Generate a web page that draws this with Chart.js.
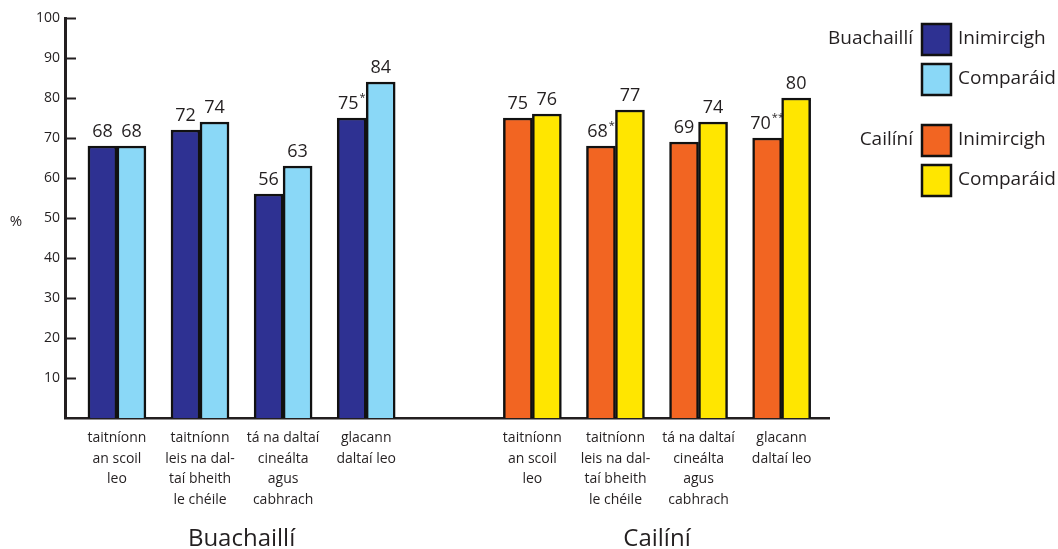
<!DOCTYPE html>
<html>
<head>
<meta charset="utf-8">
<style>
  *{margin:0;padding:0;box-sizing:border-box}
  html,body{width:1058px;height:549px;background:#fff;overflow:hidden}
</style>
</head>
<body>
<canvas id="chart" width="1058" height="549"></canvas>
<script src="https://cdn.jsdelivr.net/npm/chart.js@4/dist/chart.umd.min.js"></script>
<script>
// ─── Data ──────────────────────────────────────────────────────
const categories = [
  ['taitníonn', 'an scoil', 'leo'],
  ['taitníonn', 'leis na dal-', 'taí bheith', 'le chéile'],
  ['tá na daltaí', 'cineálta', 'agus', 'cabhrach'],
  ['glacann', 'daltaí leo'],
];
const groups = ['Buachaillí', 'Cailíní'];
const seriesNames = ['Inimircigh', 'Comparáid'];

const boysImmigrant = [68, 72, 56, 75];
const boysComparison = [68, 74, 63, 84];
const girlsImmigrant = [75, 68, 69, 70];
const girlsComparison = [76, 77, 74, 80];

// significance marks printed after the immigrant values
const boysImmigrantMarks = ['', '', '', '*'];
const girlsImmigrantMarks = ['', '*', '', '**'];

// ─── Style ─────────────────────────────────────────────────────
const FONT = "'Open Sans', sans-serif";
const INK = '#231f20';
const NAVY = '#2e3192';
const SKY = '#8ad8f7';
const ORANGE = '#f26522';
const YELLOW = '#ffe600';

// boys in slots 0..3, one empty slot, girls in slots 5..8
const boysX = categories.map((_, i) => i);
const girlsX = categories.map((_, i) => i + categories.length + 1);
const toPoints = (xs, ys) => xs.map((x, i) => ({ x, y: ys[i] }));

const datasets = [
  {
    label: seriesNames[0],
    data: [...toPoints(boysX, boysImmigrant), ...toPoints(girlsX, girlsImmigrant)],
    backgroundColor: [...boysX.map(() => NAVY), ...girlsX.map(() => ORANGE)],
    marks: [...boysImmigrantMarks, ...girlsImmigrantMarks],
  },
  {
    label: seriesNames[1],
    data: [...toPoints(boysX, boysComparison), ...toPoints(girlsX, girlsComparison)],
    backgroundColor: [...boysX.map(() => SKY), ...girlsX.map(() => YELLOW)],
    marks: [],
  },
];

// ─── Extra drawing: ticks, value labels, categories, legend ────
const decorations = {
  id: 'decorations',
  afterDraw(chart) {
    const { ctx, scales: { x, y } } = chart;
    ctx.save();

    // inward tick marks on the y axis
    ctx.strokeStyle = INK;
    ctx.lineWidth = 2;
    for (let v = 10; v <= 100; v += 10) {
      const py = Math.round(y.getPixelForValue(v)) + 0.5;
      ctx.beginPath();
      ctx.moveTo(y.right, py);
      ctx.lineTo(y.right + 11, py);
      ctx.stroke();
    }

    // % label
    ctx.fillStyle = INK;
    ctx.font = `15px ${FONT}`;
    ctx.textAlign = 'center';
    ctx.textBaseline = 'middle';
    ctx.fillText('%', 16, 222);

    // value labels over the bars
    chart.data.datasets.forEach((ds, di) => {
      chart.getDatasetMeta(di).data.forEach((bar, i) => {
        const txt = String(ds.data[i].y);
        const mark = ds.marks[i] || '';
        ctx.font = `18px ${FONT}`;
        const w1 = ctx.measureText(txt).width;
        ctx.font = `11px ${FONT}`;
        const w2 = mark ? ctx.measureText(mark).width + 1 : 0;
        const left = bar.x - (w1 + w2) / 2;
        ctx.textAlign = 'left';
        ctx.textBaseline = 'alphabetic';
        ctx.font = `18px ${FONT}`;
        ctx.fillText(txt, left, bar.y - 9);
        if (mark) {
          ctx.font = `11px ${FONT}`;
          ctx.fillText(mark, left + w1 + 1, bar.y - 17);
        }
      });
    });

    // category labels
    ctx.textAlign = 'center';
    ctx.textBaseline = 'middle';
    ctx.font = `14px ${FONT}`;
    [boysX, girlsX].forEach((xs) => {
      xs.forEach((slot, i) => {
        const px = x.getPixelForValue(slot);
        categories[i].forEach((line, li) => {
          ctx.fillText(line, px, 438 + li * 20.7);
        });
      });
    });

    // group titles
    ctx.font = `24px ${FONT}`;
    ctx.textBaseline = 'alphabetic';
    [boysX, girlsX].forEach((xs, g) => {
      const mid = (xs[0] + xs[xs.length - 1]) / 2;
      ctx.fillText(groups[g], x.getPixelForValue(mid), 546);
    });

    // legend
    const legendColors = [[NAVY, SKY], [ORANGE, YELLOW]];
    const legendTop = [23, 124];
    ctx.font = `19px ${FONT}`;
    ctx.textBaseline = 'middle';
    legendColors.forEach((cols, g) => {
      ctx.textAlign = 'right';
      ctx.fillStyle = INK;
      ctx.fillText(groups[g], 913, legendTop[g] + 16);
      cols.forEach((c, k) => {
        const ty = legendTop[g] + k * 40;
        ctx.fillStyle = c;
        ctx.fillRect(922, ty + 1, 29, 31);
        ctx.strokeStyle = '#111';
        ctx.lineWidth = 2.5;
        ctx.strokeRect(922, ty + 1, 29, 31);
        ctx.fillStyle = INK;
        ctx.textAlign = 'left';
        ctx.fillText(seriesNames[k], 958, ty + 16);
      });
    });

    ctx.restore();
  },
};

// ─── Chart ─────────────────────────────────────────────────────
new Chart(document.getElementById('chart').getContext('2d'), {
  type: 'bar',
  data: { datasets },
  options: {
    responsive: false,
    animation: false,
    layout: { padding: { top: 18, right: 229, left: 0, bottom: 0 } },
    plugins: { legend: { display: false }, tooltip: { enabled: false } },
    datasets: {
      bar: { barThickness: 29, borderWidth: 2.5, borderColor: '#111' },
    },
    scales: {
      x: {
        type: 'linear',
        offset: false,
        min: -0.625,
        max: 8.57,
        ticks: { display: false },
        grid: { display: false },
        border: { display: true, color: INK, width: 2.5 },
        afterFit(s) { s.height = 131; },
      },
      y: {
        min: 0,
        max: 100,
        ticks: {
          stepSize: 10,
          padding: 5,
          color: INK,
          font: { family: FONT, size: 14 },
          callback: (v) => (v === 0 ? '' : v),
        },
        grid: { display: false, drawTicks: false },
        border: { display: true, color: INK, width: 3 },
        afterFit(s) { s.width = 65; },
      },
    },
  },
  plugins: [decorations],
});
</script>
</body>
</html>
